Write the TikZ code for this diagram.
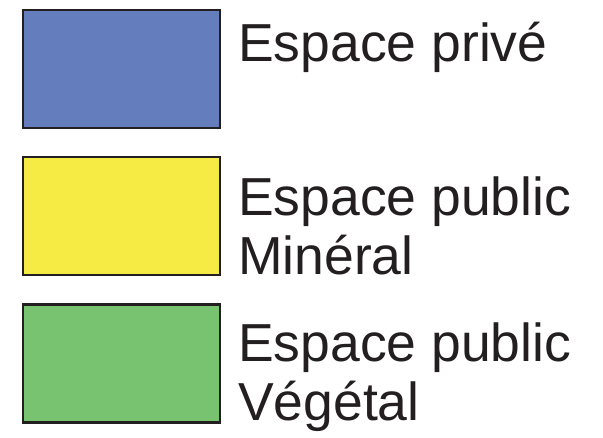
\documentclass[tikz,border=0pt]{standalone}
\usepackage{fontspec}
\setmainfont{Liberation Sans}
\usetikzlibrary{positioning}
\definecolor{prive}{HTML}{647DBD}
\definecolor{mineral}{HTML}{F6EB45}
\definecolor{vegetal}{HTML}{77C36F}
\definecolor{trait}{HTML}{231F20}
\begin{document}
\begin{tikzpicture}[x=1pt, y=1pt, node distance=27pt,
    legbox/.style={draw=trait, line width=2.2pt, minimum width=197pt,
                   minimum height=118pt, inner sep=0pt},
    legtext/.style={text=trait, font=\fontsize{53.5}{59}\selectfont,
                    align=left, inner sep=0pt, anchor=base west}]
    \useasboundingbox (0,0) rectangle (603,-438);
    \node[legbox, fill=prive, anchor=north west] (prive) at (22,-9) {};
    \node[legbox, fill=mineral, below=of prive] (mineral) {};
    \node[legbox, fill=vegetal, below=of mineral, node distance=28pt] (vegetal) {};
    % base anchor = last line
    \node[legtext] (tprive) at (238,-62) {Espace privé};
    \node[legtext] (tmineral) at (238,-275) {Espace public\\Minéral};
    \node[legtext] (tvegetal) at (238,-421) {Espace public\\Végétal};
\end{tikzpicture}
\end{document}
